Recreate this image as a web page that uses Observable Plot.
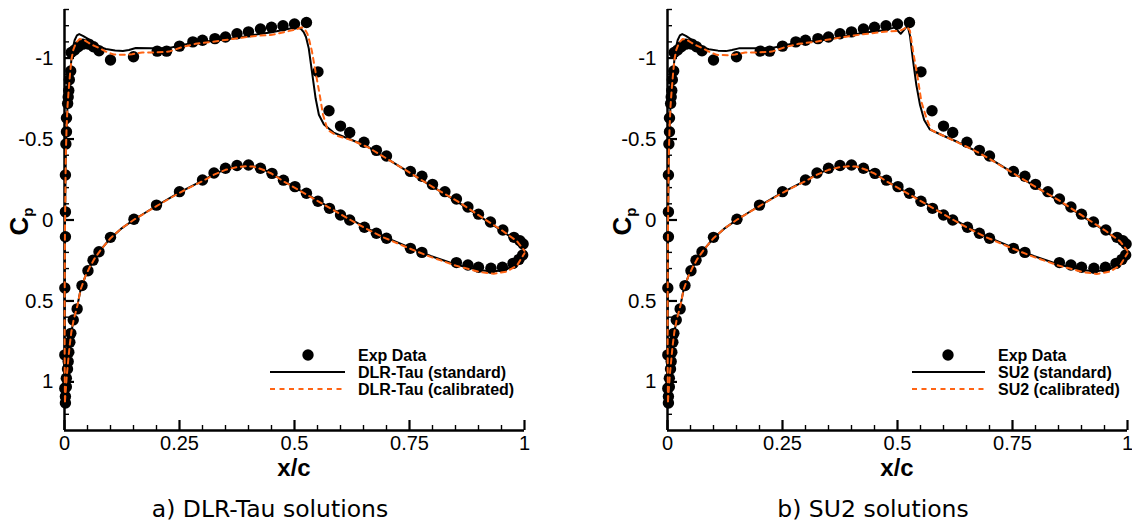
<!DOCTYPE html>
<html><head><meta charset="utf-8">
<script src="https://cdn.jsdelivr.net/npm/d3@7"></script>
<script src="https://cdn.jsdelivr.net/npm/@observablehq/plot@0.6"></script>
<style>
html,body{margin:0;padding:0;background:#fff;overflow:hidden;width:1132px;height:527px;}
.panel{position:absolute;top:0;width:566px;height:527px;}
.caption{font-family:"DejaVu Sans",sans-serif;font-size:23.5px;width:540px;text-align:center;line-height:40px;padding-top:2px;color:#000;}
</style></head><body>
<div id="pa" class="panel" style="left:0px"></div>
<div id="pb" class="panel" style="left:603px"></div>
<script>
// ---------- tick values ----------
const xMajorTicks = [0, 0.25, 0.5, 0.75, 1];
const xMinorTicks = [0.05, 0.1, 0.15, 0.2, 0.3, 0.35, 0.4, 0.45, 0.55, 0.6, 0.65, 0.7, 0.8, 0.85, 0.9, 0.95];
const yMajorTicks = [-1, -0.5, 0, 0.5, 1];
const yMinorTicks = [-1.3, -1.2, -1.1, -0.9, -0.8, -0.7, -0.6, -0.4, -0.3, -0.2, -0.1, 0.1, 0.2, 0.3, 0.4, 0.6, 0.7, 0.8, 0.9, 1.1, 1.2];
const yDomain = [-1.3, 1.3];

// ---------- experimental data [x/c, Cp] ----------
const expData = [
  [0.002,1.13],[0.002,1.09],[0.0007,1.04],[0.004,1.03],[0.004,0.977],[0.0065,0.92],[0.008,0.874],[0.0007,0.833],
  [0.0094,0.817],[0.0116,0.755],[0.0138,0.70],[0.019,0.617],[0.0275,0.549],[0.0007,0.42],[0.002,0.103],[0.002,-0.05],
  [0.002,-0.278],[0.003,-0.469],[0.0043,-0.545],[0.0043,-0.63],[0.0068,-0.72],[0.008,-0.76],[0.0093,-0.80],[0.0105,-0.866],
  [0.0135,-0.92],[0.0145,-1.035],[0.022,-1.05],[0.03,-1.07],[0.04,-1.086],[0.053,-1.086],[0.063,-1.07],[0.075,-1.045],
  [0.100,-0.988],[0.150,-1.008],[0.2015,-1.043],[0.222,-1.043],[0.25,-1.074],[0.279,-1.10],[0.30,-1.11],[0.327,-1.12],
  [0.35,-1.13],[0.375,-1.15],[0.40,-1.162],[0.426,-1.18],[0.45,-1.19],[0.475,-1.20],[0.50,-1.21],[0.526,-1.22],
  [0.551,-0.915],[0.575,-0.675],[0.60,-0.58],[0.62,-0.54],[0.651,-0.48],[0.678,-0.43],[0.70,-0.395],[0.752,-0.30],
  [0.777,-0.27],[0.80,-0.22],[0.827,-0.175],[0.852,-0.13],[0.877,-0.08],[0.90,-0.036],[0.926,0.012],[0.953,0.062],
  [0.977,0.107],[0.99,0.128],[0.997,0.148],
  [0.038,0.405],[0.051,0.313],[0.062,0.248],[0.075,0.196],[0.10,0.107],[0.151,-0.005],[0.20,-0.092],[0.25,-0.175],
  [0.30,-0.247],[0.325,-0.29],[0.35,-0.32],[0.375,-0.337],[0.40,-0.34],[0.426,-0.32],[0.451,-0.288],[0.476,-0.246],
  [0.501,-0.206],[0.526,-0.165],[0.551,-0.116],[0.576,-0.072],[0.60,-0.031],[0.62,0.0],[0.652,0.045],[0.678,0.082],
  [0.70,0.113],[0.752,0.175],[0.777,0.20],[0.852,0.263],[0.877,0.278],[0.90,0.292],[0.927,0.298],[0.952,0.292],
  [0.975,0.268],[0.988,0.243],[0.996,0.216]
];

// ---------- DLR-Tau ----------
const tauStdUpper = [
  [0.001,1.12],[0.0004,0.9],[0.0003,0.6],[0.0006,0.3],[0.001,0.05],[0.002,-0.2],[0.003,-0.42],[0.0045,-0.57],
  [0.0065,-0.7],[0.009,-0.8],[0.012,-0.9],[0.015,-0.99],[0.018,-1.06],[0.022,-1.11],[0.027,-1.14],[0.032,-1.148],
  [0.04,-1.137],[0.053,-1.115],[0.065,-1.09],[0.077,-1.068],[0.09,-1.056],[0.11,-1.047],[0.127,-1.044],[0.14,-1.05],
  [0.155,-1.062],[0.19,-1.06],[0.227,-1.062],[0.256,-1.08],[0.285,-1.10],[0.328,-1.107],[0.386,-1.13],[0.426,-1.15],
  [0.448,-1.158],[0.477,-1.175],[0.504,-1.19],[0.514,-1.18],[0.52,-1.16],[0.525,-1.13],[0.531,-1.06],[0.538,-0.915],
  [0.546,-0.75],[0.553,-0.65],[0.564,-0.59],[0.585,-0.54],[0.622,-0.497],[0.658,-0.455],[0.70,-0.38],[0.752,-0.29],
  [0.80,-0.206],[0.852,-0.117],[0.90,-0.027],[0.953,0.07],[0.984,0.134],[1.0,0.19]
];
const tauCalUpper = [
  [0.001,1.12],[0.0004,0.9],[0.0003,0.6],[0.0006,0.3],[0.001,0.05],[0.002,-0.2],[0.003,-0.42],[0.0045,-0.57],
  [0.0065,-0.7],[0.009,-0.8],[0.012,-0.9],[0.015,-0.99],[0.019,-1.05],[0.025,-1.095],[0.033,-1.118],[0.042,-1.113],
  [0.053,-1.093],[0.065,-1.075],[0.077,-1.06],[0.09,-1.04],[0.107,-1.022],[0.13,-1.02],[0.147,-1.024],[0.169,-1.035],
  [0.198,-1.035],[0.227,-1.04],[0.256,-1.068],[0.285,-1.088],[0.32,-1.10],[0.37,-1.12],[0.419,-1.138],[0.448,-1.142],
  [0.477,-1.16],[0.505,-1.178],[0.515,-1.19],[0.522,-1.18],[0.528,-1.15],[0.533,-1.10],[0.538,-1.04],[0.547,-0.895],
  [0.555,-0.77],[0.562,-0.65],[0.572,-0.556],[0.593,-0.52],[0.622,-0.495],[0.658,-0.452],[0.70,-0.38],[0.752,-0.29],
  [0.80,-0.205],[0.852,-0.12],[0.90,-0.03],[0.953,0.068],[0.984,0.132],[1.0,0.19]
];
const tauStdLower = [
  [0.001,1.12],[0.003,1.04],[0.005,0.96],[0.008,0.87],[0.011,0.78],[0.015,0.69],[0.02,0.615],[0.028,0.53],
  [0.035,0.43],[0.045,0.35],[0.055,0.29],[0.065,0.24],[0.08,0.18],[0.1,0.112],[0.125,0.05],[0.15,0.0],
  [0.2,-0.088],[0.25,-0.17],[0.3,-0.243],[0.325,-0.283],[0.35,-0.313],[0.375,-0.331],[0.395,-0.336],[0.41,-0.333],
  [0.43,-0.315],[0.45,-0.29],[0.477,-0.24],[0.5,-0.203],[0.549,-0.123],[0.6,-0.04],[0.622,-0.005],[0.65,0.04],
  [0.694,0.103],[0.75,0.17],[0.796,0.222],[0.852,0.276],[0.904,0.311],[0.933,0.318],[0.962,0.304],[0.984,0.267],[1.0,0.2]
];
const tauCalLower = [
  [0.001,1.12],[0.003,1.04],[0.005,0.96],[0.008,0.87],[0.011,0.78],[0.015,0.69],[0.02,0.615],[0.028,0.53],
  [0.035,0.43],[0.045,0.35],[0.055,0.29],[0.065,0.24],[0.08,0.18],[0.1,0.112],[0.125,0.05],[0.15,0.0],
  [0.2,-0.086],[0.25,-0.168],[0.3,-0.24],[0.325,-0.28],[0.35,-0.31],[0.375,-0.327],[0.395,-0.332],[0.41,-0.33],
  [0.43,-0.312],[0.45,-0.287],[0.477,-0.237],[0.5,-0.2],[0.549,-0.12],[0.6,-0.036],[0.622,0.0],[0.65,0.045],
  [0.694,0.108],[0.75,0.176],[0.796,0.228],[0.852,0.283],[0.904,0.322],[0.933,0.332],[0.962,0.318],[0.984,0.28],[1.0,0.205]
];

// ---------- SU2 ----------
const su2StdUpper = [
  [0.001,1.12],[0.0004,0.9],[0.0003,0.6],[0.0006,0.3],[0.001,0.05],[0.002,-0.2],[0.003,-0.42],[0.0045,-0.57],
  [0.0065,-0.7],[0.009,-0.8],[0.012,-0.9],[0.015,-0.99],[0.018,-1.06],[0.022,-1.11],[0.027,-1.14],[0.032,-1.148],
  [0.04,-1.137],[0.053,-1.112],[0.065,-1.088],[0.077,-1.066],[0.09,-1.055],[0.11,-1.046],[0.127,-1.043],[0.14,-1.05],
  [0.155,-1.06],[0.19,-1.06],[0.227,-1.062],[0.256,-1.08],[0.285,-1.098],[0.328,-1.107],[0.378,-1.13],[0.422,-1.155],
  [0.465,-1.17],[0.494,-1.188],[0.507,-1.15],[0.522,-1.20],[0.527,-1.14],[0.534,-0.98],[0.541,-0.833],[0.549,-0.71],
  [0.558,-0.617],[0.57,-0.56],[0.596,-0.525],[0.632,-0.48],[0.675,-0.42],[0.70,-0.38],[0.752,-0.29],[0.80,-0.206],
  [0.852,-0.117],[0.90,-0.027],[0.953,0.07],[0.984,0.134],[1.0,0.19]
];
const su2CalUpper = [
  [0.001,1.12],[0.0004,0.9],[0.0003,0.6],[0.0006,0.3],[0.001,0.05],[0.002,-0.2],[0.003,-0.42],[0.0045,-0.57],
  [0.0065,-0.7],[0.009,-0.8],[0.012,-0.9],[0.015,-0.99],[0.019,-1.05],[0.025,-1.095],[0.033,-1.118],[0.042,-1.113],
  [0.053,-1.093],[0.065,-1.075],[0.077,-1.06],[0.09,-1.04],[0.107,-1.02],[0.13,-1.018],[0.147,-1.022],[0.169,-1.035],
  [0.198,-1.035],[0.227,-1.04],[0.256,-1.068],[0.285,-1.088],[0.32,-1.10],[0.378,-1.128],[0.422,-1.146],[0.48,-1.165],
  [0.505,-1.168],[0.514,-1.18],[0.52,-1.195],[0.527,-1.17],[0.534,-1.04],[0.543,-0.895],[0.552,-0.73],[0.563,-0.628],
  [0.573,-0.556],[0.596,-0.525],[0.632,-0.478],[0.675,-0.418],[0.70,-0.378],[0.752,-0.288],[0.80,-0.205],[0.852,-0.12],
  [0.90,-0.03],[0.953,0.068],[0.984,0.132],[1.0,0.19]
];
const su2StdLower = [
  [0.001,1.12],[0.003,1.04],[0.005,0.96],[0.008,0.87],[0.011,0.78],[0.015,0.69],[0.02,0.615],[0.028,0.53],
  [0.035,0.43],[0.045,0.35],[0.055,0.29],[0.065,0.24],[0.08,0.18],[0.1,0.112],[0.125,0.05],[0.15,0.0],
  [0.2,-0.088],[0.25,-0.17],[0.3,-0.243],[0.325,-0.283],[0.35,-0.313],[0.375,-0.331],[0.395,-0.336],[0.41,-0.333],
  [0.43,-0.315],[0.45,-0.29],[0.477,-0.24],[0.5,-0.203],[0.549,-0.123],[0.6,-0.04],[0.622,-0.005],[0.65,0.04],
  [0.694,0.103],[0.75,0.17],[0.796,0.222],[0.852,0.276],[0.904,0.31],[0.933,0.317],[0.962,0.303],[0.984,0.266],[1.0,0.2]
];
const su2CalLower = [
  [0.001,1.12],[0.003,1.04],[0.005,0.96],[0.008,0.87],[0.011,0.78],[0.015,0.69],[0.02,0.615],[0.028,0.53],
  [0.035,0.43],[0.045,0.35],[0.055,0.29],[0.065,0.24],[0.08,0.18],[0.1,0.112],[0.125,0.05],[0.15,0.0],
  [0.2,-0.086],[0.25,-0.168],[0.3,-0.24],[0.325,-0.28],[0.35,-0.31],[0.375,-0.327],[0.395,-0.332],[0.41,-0.33],
  [0.43,-0.312],[0.45,-0.287],[0.477,-0.237],[0.5,-0.2],[0.549,-0.12],[0.6,-0.036],[0.622,0.0],[0.65,0.045],
  [0.694,0.108],[0.75,0.176],[0.796,0.228],[0.852,0.283],[0.904,0.322],[0.933,0.333],[0.962,0.319],[0.984,0.28],[1.0,0.205]
];

const panels = [
  {id: "pa", std: [tauStdUpper, tauStdLower], cal: [tauCalUpper, tauCalLower],
   labels: ["Exp Data", "DLR-Tau (standard)", "DLR-Tau (calibrated)"], caption: "a) DLR-Tau solutions",
   legend: {mx: 308, l1: 270, l2: 345, tx: 358}},
  {id: "pb", std: [su2StdUpper, su2StdLower], cal: [su2CalUpper, su2CalLower],
   labels: ["Exp Data", "SU2 (standard)", "SU2 (calibrated)"], caption: "b) SU2 solutions",
   legend: {mx: 345, l1: 309, l2: 382, tx: 395}}
];

const ORANGE = "#ff6414";
const tickFont = "Liberation Sans, Arial, sans-serif";

function toRows(arrs) {
  const rows = [];
  arrs.forEach((a, i) => a.forEach(([x, cp]) => rows.push({x, cp, side: i})));
  return rows;
}
const expRows = expData.map(([x, cp]) => ({x, cp}));

for (const p of panels) {
  const W = 566, H = 487, mt = 9, mb = 57, ml = 64, mr = 42;
  const fw = W - ml - mr, fh = H - mt - mb;
  const svg = Plot.plot({
    width: W, height: H, marginTop: mt, marginBottom: mb, marginLeft: ml, marginRight: mr,
    x: {domain: [0, 1]},
    y: {domain: yDomain, reverse: true},
    style: {background: "white", overflow: "visible"},
    marks: [
      Plot.tickX(xMinorTicks, {x: d => d, insetTop: fh - 5, stroke: "black", strokeWidth: 1.4}),
      Plot.tickX(xMajorTicks, {x: d => d, insetTop: fh - 10, stroke: "black", strokeWidth: 2.2}),
      Plot.tickY(yMinorTicks, {y: d => d, insetRight: fw - 5, stroke: "black", strokeWidth: 1.4}),
      Plot.tickY(yMajorTicks, {y: d => d, insetRight: fw - 10, stroke: "black", strokeWidth: 2.2}),
      Plot.ruleX([0], {stroke: "black", strokeWidth: 2.5}),
      Plot.ruleY([yDomain[1]], {stroke: "black", strokeWidth: 2.5}),
      Plot.axisX(xMajorTicks, {tickSize: 0, tickPadding: 5, tickFormat: d => String(d), fontSize: 20, fontFamily: tickFont, fill: "black", label: null}),
      Plot.axisY(yMajorTicks, {tickSize: 0, tickPadding: 11, tickFormat: d => String(d), fontSize: 20.5, fontFamily: tickFont, fill: "black", label: null}),
      Plot.dot(expRows, {x: "x", y: "cp", r: 5.7, fill: "black"}),
      Plot.line(toRows(p.std), {x: "x", y: "cp", z: "side", stroke: "black", strokeWidth: 2}),
      Plot.line(toRows(p.cal), {x: "x", y: "cp", z: "side", stroke: ORANGE, strokeWidth: 2, strokeDasharray: "5,4.5"})
    ]
  });
  const s = d3.select(svg);
  // axis titles
  s.append("text").attr("x", ml + fw / 2).attr("y", 476).attr("text-anchor", "middle")
    .attr("font-family", tickFont).attr("font-weight", "bold").attr("font-size", 24).attr("fill", "black").text("x/c");
  const cp = s.append("text").attr("transform", `translate(28,${mt + fh / 2 + 2}) rotate(-90)`).attr("text-anchor", "middle")
    .attr("font-family", tickFont).attr("font-weight", "bold").attr("font-size", 26).attr("fill", "black");
  cp.append("tspan").text("C");
  cp.append("tspan").attr("font-size", 15).attr("dy", 5).text("p");
  // legend
  const L = p.legend, rows = [355, 372, 389];
  const g = s.append("g");
  g.append("circle").attr("cx", L.mx).attr("cy", rows[0]).attr("r", 5.7).attr("fill", "black");
  g.append("line").attr("x1", L.l1).attr("x2", L.l2).attr("y1", rows[1]).attr("y2", rows[1]).attr("stroke", "black").attr("stroke-width", 2);
  g.append("line").attr("x1", L.l1).attr("x2", L.l2).attr("y1", rows[2]).attr("y2", rows[2]).attr("stroke", ORANGE).attr("stroke-width", 2).attr("stroke-dasharray", "5,4.5");
  p.labels.forEach((t, i) => {
    g.append("text").attr("x", L.tx).attr("y", rows[i] + 6).attr("text-anchor", "start").attr("font-family", tickFont).attr("font-weight", "bold")
      .attr("font-size", 16).attr("fill", "black").text(t);
  });
  const el = document.getElementById(p.id);
  el.appendChild(svg);
  const cap = document.createElement("div");
  cap.className = "caption";
  cap.textContent = p.caption;
  el.appendChild(cap);
}
</script>
</body></html>
